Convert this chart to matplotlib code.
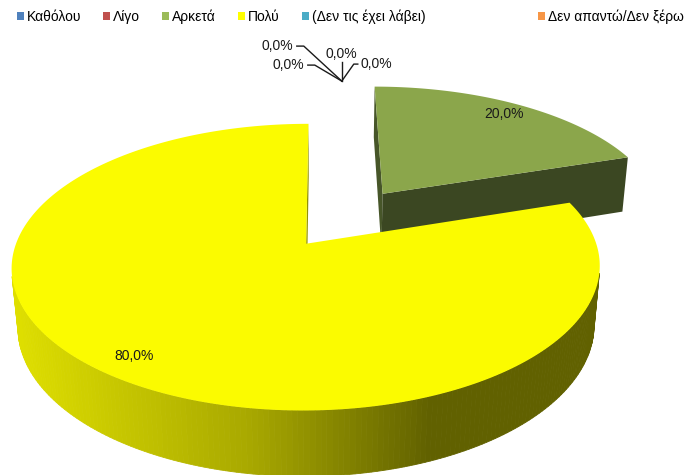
import numpy as np
import matplotlib.pyplot as plt
from matplotlib.patches import Polygon, Patch

categories = ['Καθόλου', 'Λίγο', 'Αρκετά', 'Πολύ', '(Δεν τις έχει λάβει)', 'Δεν απαντώ/Δεν ξέρω']
values = [0.0, 0.0, 20.0, 80.0, 0.0, 0.0]
colors = ['#4F81BD', '#C0504D', '#9BBB59', '#FFFF00', '#4BACC6', '#F79646']
top_colors = ['#4A78B0', '#B04A47', '#8BA64B', '#FBFB00', '#45A0B8', '#E88C42']
explode = [0, 0, 0.235, 0.235, 0, 0]

plt.rcParams['font.family'] = ['Liberation Sans', 'DejaVu Sans']

# simple perspective camera, output in pixel coords
F = 1570.0
DIST = 5.58
TILT = np.radians(27.8)
HGT = 0.235
XC = -0.08           # camera sits a bit left of the pie centre
X0, Y0 = 323.0, 218.0
cs, sn = np.cos(TILT), np.sin(TILT)
cam = np.array([XC, DIST * sn, DIST * cs])


def proj(X, Y, Z):
    d = DIST - Z * cs - Y * sn
    return X0 + F * (X - XC) / d, Y0 - F * (Y * cs - Z * sn) / d


def shade(col, x):
    k = np.interp(x, [10, 250, 430, 686], [0.88, 0.66, 0.38, 0.38])
    r, g, b = [int(col[i:i + 2], 16) / 255 for i in (1, 3, 5)]
    return (r * k, g * k, b * k)


def visible(n, p):
    return np.dot(n, cam - p) > 0


fig = plt.figure(figsize=(6.86, 4.75), dpi=100)
ax = fig.add_axes([0, 0, 1, 1])
ax.set_xlim(0, 686)
ax.set_ylim(475, 0)
ax.axis('off')

total = sum(values)
ends = np.cumsum(values) / total * 2 * np.pi
starts = ends - np.array(values) / total * 2 * np.pi

slices = []
for i, v in enumerate(values):
    if v <= 0:
        continue
    mid = (starts[i] + ends[i]) / 2
    cx = explode[i] * np.sin(mid)
    cz = -explode[i] * np.cos(mid)
    slices.append((i, cx, cz))
# far ones first
slices.sort(key=lambda s: -(DIST - s[2] * cs))

for i, cx, cz in slices:
    a0, a1 = starts[i], ends[i]
    th = np.linspace(a0, a1, 300)
    rx = cx + np.sin(th)
    rz = cz - np.cos(th)
    # radial cut faces
    for a, sgn in ((a0, -1), (a1, 1)):
        n = sgn * np.array([np.cos(a), 0, np.sin(a)])
        p = np.array([cx + 0.5 * np.sin(a), -HGT / 2, cz - 0.5 * np.cos(a)])
        if visible(n, p):
            ex, ez = cx + np.sin(a), cz - np.cos(a)
            pts = [proj(cx, 0, cz), proj(ex, 0, ez), proj(ex, -HGT, ez), proj(cx, -HGT, cz)]
            xm = np.mean([q[0] for q in pts])
            ax.add_patch(Polygon(pts, closed=True, facecolor=shade(colors[i], xm),
                                 edgecolor='none'))
    # outer wall, strips facing the camera
    for j in range(len(th) - 1):
        tm = (th[j] + th[j + 1]) / 2
        n = np.array([np.sin(tm), 0, -np.cos(tm)])
        p = np.array([cx + np.sin(tm), -HGT / 2, cz - np.cos(tm)])
        if not visible(n, p):
            continue
        pts = [proj(rx[j], 0, rz[j]), proj(rx[j + 1], 0, rz[j + 1]),
               proj(rx[j + 1], -HGT, rz[j + 1]), proj(rx[j], -HGT, rz[j])]
        xm = np.mean([q[0] for q in pts])
        c = shade(colors[i], xm)
        ax.add_patch(Polygon(pts, closed=True, facecolor=c, edgecolor=c, lw=0.6))
    # top face
    top = [proj(cx, 0, cz)] + [proj(x, 0, z) for x, z in zip(rx, rz)]
    ax.add_patch(Polygon(top, closed=True, facecolor=top_colors[i], edgecolor='none'))


def fmt(v):
    return f'{v:.1f}%'.replace('.', ',')


# data labels
for i, cx, cz in slices:
    mid = (starts[i] + ends[i]) / 2
    lx, ly = proj(cx + 0.88 * np.sin(mid), 0, cz - 0.88 * np.cos(mid))
    ax.text(lx, ly, fmt(values[i]), ha='center', va='center', fontsize=10, color='#1a1a1a')

# zero slices: labels with leader lines, all meeting behind the 12 o'clock rim
zero_idx = [i for i, v in enumerate(values) if v == 0]
axx, ayy = proj(0.0, 0, -1.25)
zero_offsets = [(-64, -35), (-53, -16), (0, -27), (35, -17)]
for k, i in enumerate(zero_idx):
    dx, dy = zero_offsets[k]
    tx, ty = axx + dx, ayy + dy
    ax.text(tx, ty, fmt(values[i]), ha='center', va='center', fontsize=10, color='#1a1a1a')
    if dx < 0:
        xe = tx + 19
        ax.plot([axx, xe + 7, xe], [ayy, ty, ty], color='#1a1a1a', lw=1)
    elif dx > 0:
        xe = tx - 19
        ax.plot([axx, xe - 4, xe], [ayy, ty, ty], color='#1a1a1a', lw=1)
    else:
        ax.plot([axx, axx], [ayy, ty + 8], color='#1a1a1a', lw=1)

# legend: first five in a row, the last one pushed to the right
handles = [Patch(facecolor=c, edgecolor='none') for c in colors]
kw = dict(frameon=False, fontsize=10, handlelength=0.5, handleheight=0.5,
          handletextpad=0.2, columnspacing=1.6, borderpad=0, borderaxespad=0)
leg1 = fig.legend(handles[:5], categories[:5], ncol=5, loc='center left',
                  bbox_to_anchor=(17 / 686, 1 - 17 / 475), **kw)
leg2 = fig.legend(handles[5:], categories[5:], loc='center right',
                  bbox_to_anchor=(684 / 686, 1 - 17 / 475), **kw)

fig.savefig('out.png', dpi=100)
